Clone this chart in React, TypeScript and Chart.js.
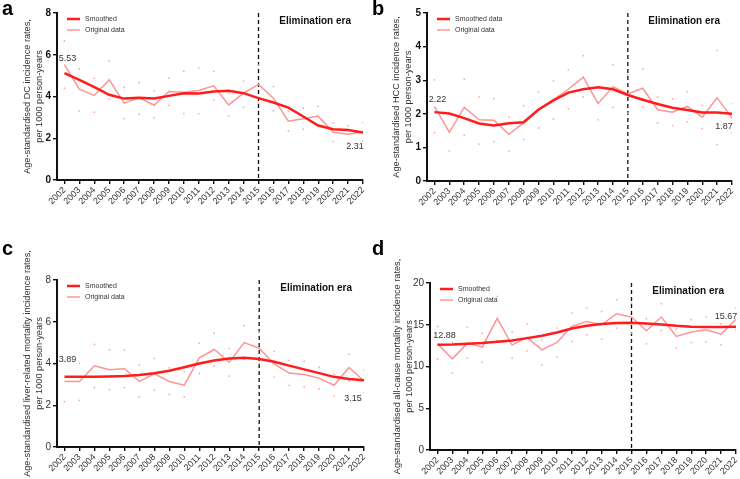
import React, { useEffect, useRef } from 'react';
import { Chart, registerables } from 'chart.js';

Chart.register(...registerables);

const FONT = 'Arial, "Liberation Sans", sans-serif';

const years = [2002, 2003, 2004, 2005, 2006, 2007, 2008, 2009, 2010, 2011, 2012, 2013, 2014, 2015, 2016, 2017, 2018, 2019, 2020, 2021, 2022];
const eliminationYear = 2015;

// Panel a: DC incidence
const aSmoothed = [5.12, 4.8, 4.45, 4.08, 3.9, 3.94, 3.9, 4.03, 4.16, 4.14, 4.24, 4.27, 4.16, 3.92, 3.71, 3.47, 3.04, 2.61, 2.43, 2.4, 2.27];
const aOriginal = [5.53, 4.35, 4.05, 4.8, 3.68, 3.95, 3.58, 4.24, 4.2, 4.29, 4.51, 3.6, 4.16, 4.58, 3.92, 2.82, 2.93, 3.06, 2.29, 2.19, 2.31];
const aUpper = [6.67, 5.33, 4.88, 5.7, 4.43, 4.67, 4.27, 4.88, 5.2, 5.36, 5.2, 4.2, 4.74, 5.5, 4.48, 3.3, 3.44, 3.52, 2.72, 2.6, 2.75];
const aLower = [4.4, 3.31, 3.25, 3.89, 2.94, 3.15, 2.98, 3.57, 3.18, 3.18, 3.84, 3.07, 3.49, 3.7, 3.31, 2.35, 2.43, 2.6, 1.84, 1.79, 1.86];
const aLabels = ['5.53', '2.31'];

// Panel b: HCC incidence
const bSmoothed = [2.05, 2.01, 1.87, 1.71, 1.65, 1.72, 1.75, 2.13, 2.4, 2.63, 2.73, 2.79, 2.73, 2.56, 2.42, 2.29, 2.18, 2.11, 2.04, 2.04, 2.0];
const bOriginal = [2.22, 1.45, 2.19, 1.82, 1.81, 1.39, 1.73, 2.12, 2.42, 2.73, 3.09, 2.31, 2.81, 2.59, 2.76, 2.12, 2.05, 2.22, 1.9, 2.48, 1.87];
const bUpper = [3.01, 2.0, 3.03, 2.51, 2.45, 1.9, 2.24, 2.65, 2.98, 3.31, 3.73, 2.8, 3.46, 3.16, 3.34, 2.5, 2.44, 2.66, 2.25, 3.89, 2.3];
const bLower = [1.44, 0.89, 1.36, 1.1, 1.17, 0.89, 1.24, 1.58, 1.84, 2.15, 2.5, 1.82, 2.19, 2.02, 2.21, 1.72, 1.65, 1.76, 1.56, 1.08, 1.44];
const bLabels = ['2.22', '1.87'];

// Panel c: liver-related mortality
const cSmoothed = [3.36, 3.36, 3.37, 3.38, 3.4, 3.45, 3.53, 3.65, 3.82, 4.0, 4.14, 4.24, 4.28, 4.22, 4.08, 3.9, 3.72, 3.54, 3.36, 3.26, 3.2];
const cOriginal = [3.14, 3.14, 3.89, 3.7, 3.75, 3.14, 3.51, 3.14, 2.96, 4.27, 4.67, 4.06, 5.0, 4.73, 3.98, 3.54, 3.47, 3.3, 2.96, 3.81, 3.16];
const cUpper = [4.1, 4.02, 4.92, 4.65, 4.65, 3.92, 4.25, 3.79, 3.6, 4.98, 5.45, 4.72, 5.82, 5.5, 4.58, 4.15, 4.1, 3.82, 3.5, 4.45, 3.68];
const cLower = [2.17, 2.23, 2.85, 2.74, 2.85, 2.4, 2.72, 2.53, 2.4, 3.52, 3.88, 3.4, 4.2, 4.0, 3.35, 2.95, 2.88, 2.78, 2.45, 3.15, 2.62];
const cLabels = ['3.89', '3.15'];

// Panel d: all-cause mortality
const dSmoothed = [12.6, 12.64, 12.72, 12.8, 12.96, 13.12, 13.4, 13.68, 14.08, 14.56, 14.88, 15.08, 15.2, 15.24, 15.16, 15.04, 14.88, 14.76, 14.72, 14.72, 14.76];
const dOriginal = [12.72, 10.92, 12.8, 12.32, 15.76, 12.56, 13.48, 12.0, 12.88, 14.8, 15.4, 15.0, 16.32, 15.92, 14.28, 15.92, 13.6, 14.12, 14.4, 13.88, 15.67];
const dUpper = [14.8, 12.9, 14.72, 14.0, 18.4, 14.16, 15.08, 13.2, 14.6, 16.4, 17.0, 16.6, 18.0, 17.6, 15.72, 17.52, 14.48, 15.6, 15.92, 15.12, 17.0];
const dLower = [10.88, 9.2, 11.0, 10.52, 13.1, 11.0, 11.88, 10.2, 11.12, 13.0, 13.8, 13.28, 14.6, 14.0, 12.72, 14.32, 12.2, 12.88, 12.92, 12.6, 14.4];
const dLabels = ['12.88', '15.67'];

type Panel = {
  letter: string;
  left: number;
  top: number;
  width: number;
  height: number;
  title: string[];
  yMax: number;
  yStep: number;
  smoothLabel: string;
  smoothed: number[];
  original: number[];
  upper: number[];
  lower: number[];
  labels: string[];
  padTop: number;
  padRight: number;
  yWidth: number;
  xHeight: number;
  titlePad: number;
  firstOff: [number, number];
  lastOff: [number, number];
  boldTicks: boolean;
};

const panels: Panel[] = [
  {
    letter: 'a', left: 0, top: 0, width: 370, height: 240,
    title: ['Age-standardised DC incidence rates,', 'per 1000 person-years'],
    yMax: 8, yStep: 2, smoothLabel: 'Smoothed',
    smoothed: aSmoothed, original: aOriginal, upper: aUpper, lower: aLower, labels: aLabels,
    padTop: 13, padRight: 7, yWidth: 57, xHeight: 60, titlePad: 21,
    firstOff: [3, -6], lastOff: [-8, 15], boldTicks: true,
  },
  {
    letter: 'b', left: 370, top: 0, width: 370, height: 240,
    title: ['Age-standardised HCC incidence rates,', 'per 1000 person-years'],
    yMax: 5, yStep: 1, smoothLabel: 'Smoothed data',
    smoothed: bSmoothed, original: bOriginal, upper: bUpper, lower: bLower, labels: bLabels,
    padTop: 13, padRight: 8, yWidth: 57, xHeight: 59, titlePad: 20,
    firstOff: [3, -7], lastOff: [-8, 8], boldTicks: true,
  },
  {
    letter: 'c', left: 0, top: 240, width: 370, height: 239,
    title: ['Age-standardised liver-related mortality incidence rates,', 'per 1000 person-years'],
    yMax: 8, yStep: 2, smoothLabel: 'Smoothed',
    smoothed: cSmoothed, original: cOriginal, upper: cUpper, lower: cLower, labels: cLabels,
    padTop: 40, padRight: 6, yWidth: 57, xHeight: 32, titlePad: 21,
    firstOff: [3, -22], lastOff: [-11, 17], boldTicks: false,
  },
  {
    letter: 'd', left: 370, top: 240, width: 370, height: 239,
    title: ['Age-standardised all-cause mortality incidence rates,', 'per 1000 person-years'],
    yMax: 20, yStep: 5, smoothLabel: 'Smoothed',
    smoothed: dSmoothed, original: dOriginal, upper: dUpper, lower: dLower, labels: dLabels,
    padTop: 43, padRight: 3, yWidth: 60, xHeight: 29, titlePad: 21,
    firstOff: [7, -8], lastOff: [-10, -3], boldTicks: false,
  },
];

const SMOOTH_COLOR = '#ff1c1c';
const ORIG_COLOR = '#ff9494';
const DOT_COLOR = '#ffa8a8';

function PanelChart({ p }: { p: Panel }) {
  const ref = useRef<HTMLCanvasElement | null>(null);

  useEffect(() => {
    if (!ref.current) return;
    const toPts = (arr: number[]) => arr.map((v, i) => ({ x: years[i], y: v }));

    const overlay = {
      id: 'overlay' + p.letter,
      beforeDatasetsDraw(chart: any) {
        const { ctx, chartArea, scales } = chart;
        const xv = scales.x.getPixelForValue(eliminationYear);
        ctx.save();
        ctx.strokeStyle = '#111';
        ctx.lineWidth = 1.3;
        ctx.setLineDash([4, 3]);
        ctx.beginPath();
        ctx.moveTo(xv, chartArea.top);
        ctx.lineTo(xv, chartArea.bottom);
        ctx.stroke();
        ctx.restore();
      },
      afterDatasetsDraw(chart: any) {
        const { ctx, chartArea, scales } = chart;
        ctx.save();
        ctx.font = `bold 10px ${FONT}`;
        ctx.fillStyle = '#111';
        ctx.textAlign = 'right';
        ctx.textBaseline = 'middle';
        ctx.fillText('Elimination era', chartArea.right - 12, chartArea.top + 8);
        const ds = chart.data.datasets;
        [0, 1].forEach((di, r) => {
          const d = ds[di];
          const yy = chartArea.top + 6 + r * 11;
          const x0 = chartArea.left + 10;
          ctx.strokeStyle = d.borderColor;
          ctx.lineWidth = d.borderWidth;
          ctx.beginPath();
          ctx.moveTo(x0, yy);
          ctx.lineTo(x0 + 13, yy);
          ctx.stroke();
          ctx.font = `7px ${FONT}`;
          ctx.fillStyle = '#333';
          ctx.textAlign = 'left';
          ctx.textBaseline = 'middle';
          ctx.fillText(d.label, x0 + 18, yy);
        });
        ctx.font = `9px ${FONT}`;
        ctx.fillStyle = '#333';
        ctx.textAlign = 'center';
        ctx.textBaseline = 'middle';
        const n = p.original.length - 1;
        const fx = scales.x.getPixelForValue(years[0]);
        const fy = scales.y.getPixelForValue(p.original[0]);
        ctx.fillText(p.labels[0], fx + p.firstOff[0], fy + p.firstOff[1]);
        const lx = scales.x.getPixelForValue(years[n]);
        const ly = scales.y.getPixelForValue(p.original[n]);
        ctx.fillText(p.labels[1], lx + p.lastOff[0], ly + p.lastOff[1]);
        ctx.restore();
      },
    };

    const chart = new Chart(ref.current, {
      type: 'line',
      data: {
        datasets: [
          {
            label: p.smoothLabel,
            data: toPts(p.smoothed),
            borderColor: SMOOTH_COLOR,
            backgroundColor: SMOOTH_COLOR,
            borderWidth: 2.5,
            pointRadius: 0,
            tension: 0,
            fill: false,
          },
          {
            label: 'Original data',
            data: toPts(p.original),
            borderColor: ORIG_COLOR,
            backgroundColor: ORIG_COLOR,
            borderWidth: 1.5,
            pointRadius: 0,
            tension: 0,
            fill: false,
          },
          {
            label: 'Upper',
            data: toPts(p.upper),
            showLine: false,
            pointRadius: 0.9,
            pointBorderWidth: 0,
            pointBackgroundColor: DOT_COLOR,
            borderColor: DOT_COLOR,
          },
          {
            label: 'Lower',
            data: toPts(p.lower),
            showLine: false,
            pointRadius: 0.9,
            pointBorderWidth: 0,
            pointBackgroundColor: DOT_COLOR,
            borderColor: DOT_COLOR,
          },
        ],
      } as any,
      options: {
        animation: false,
        responsive: false,
        maintainAspectRatio: false,
        layout: { padding: { left: 0, top: p.padTop, right: p.padRight, bottom: 0 } },
        plugins: { legend: { display: false }, tooltip: { enabled: false } },
        scales: {
          x: {
            type: 'linear',
            min: 2001.5,
            max: 2022,
            afterBuildTicks: (s: any) => {
              s.ticks = years.map((v) => ({ value: v }));
            },
            afterFit: (s: any) => {
              s.height = p.xHeight;
              s.paddingLeft = 0;
              s.paddingRight = 0;
            },
            ticks: {
              autoSkip: false,
              minRotation: 45,
              maxRotation: 45,
              padding: 1,
              color: '#333',
              font: { size: 9, family: FONT },
              callback: (v: any) => String(v),
            },
            grid: { display: true, drawOnChartArea: false, drawTicks: true, tickLength: 4, color: '#111', lineWidth: 1.4 },
            border: { display: true, color: '#111', width: 2 },
          },
          y: {
            type: 'linear',
            min: 0,
            max: p.yMax,
            afterFit: (s: any) => {
              s.width = p.yWidth;
              s.paddingTop = 0;
              s.paddingBottom = 0;
            },
            ticks: {
              stepSize: p.yStep,
              padding: 2,
              color: p.boldTicks ? '#111' : '#333',
              font: { size: 10, family: FONT, weight: p.boldTicks ? 'bold' : 'normal' },
            },
            grid: { display: true, drawOnChartArea: false, drawTicks: true, tickLength: 4, color: '#111', lineWidth: 1.4 },
            border: { display: true, color: '#111', width: 2 },
            title: {
              display: true,
              text: p.title,
              color: '#333',
              font: { size: 9.2, family: FONT, lineHeight: 1.35 },
              padding: { top: p.titlePad, bottom: 0 },
            },
          },
        },
      } as any,
      plugins: [overlay],
    });
    return () => chart.destroy();
  }, [p]);

  return (
    <div style={{ position: 'absolute', left: p.left, top: p.top, width: p.width, height: p.height }}>
      <canvas ref={ref} width={p.width} height={p.height} style={{ display: 'block' }} />
      <div
        style={{
          position: 'absolute',
          left: 2,
          top: -3,
          fontFamily: FONT,
          fontWeight: 'bold',
          fontSize: 20,
          lineHeight: '22px',
          color: '#000',
        }}
      >
        {p.letter}
      </div>
    </div>
  );
}

export default function App() {
  return (
    <div style={{ position: 'fixed', left: 0, top: 0, width: 740, height: 479, background: '#fff', overflow: 'hidden' }}>
      {panels.map((p) => (
        <PanelChart key={p.letter} p={p} />
      ))}
    </div>
  );
}
